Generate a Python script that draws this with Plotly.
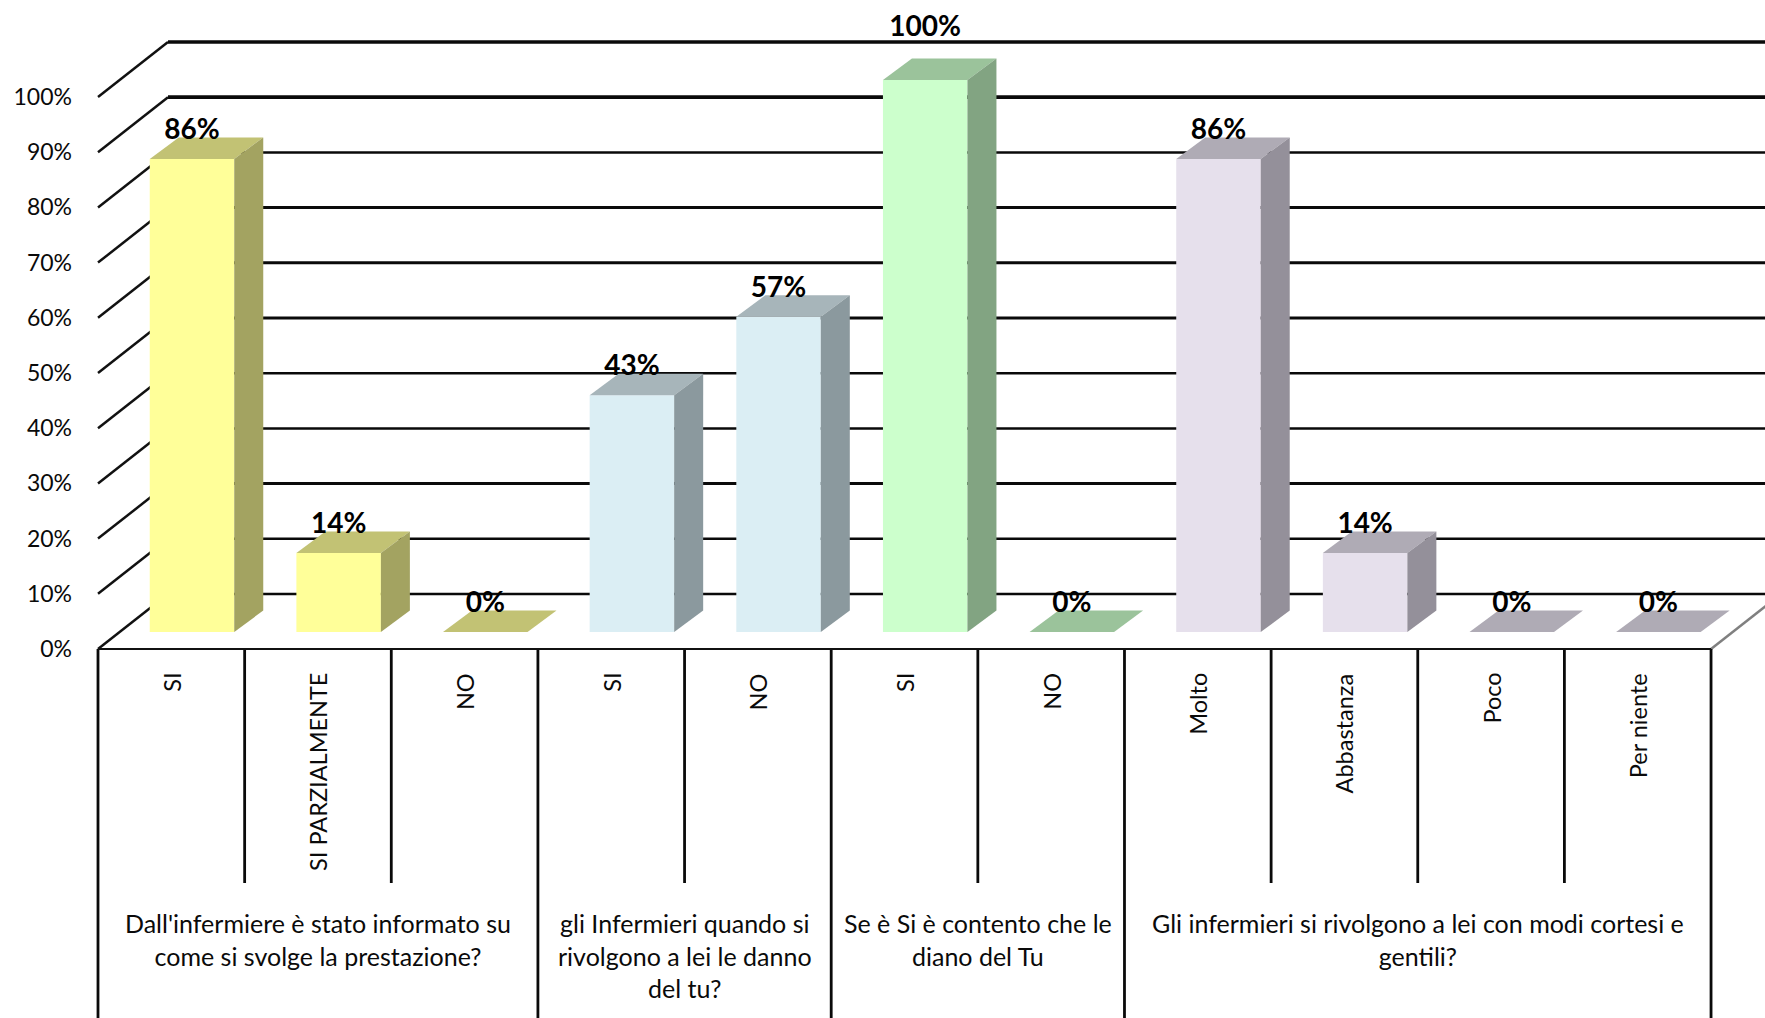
import plotly.graph_objects as go

# ---- data -------------------------------------------------------------
categories = ["SI", "SI PARZIALMENTE", "NO", "SI", "NO", "SI", "NO",
              "Molto", "Abbastanza", "Poco", "Per niente"]
values = [85.7, 14.3, 0, 42.9, 57.1, 100, 0, 85.7, 14.3, 0, 0]
value_labels = ["86%", "14%", "0%", "43%", "57%", "100%", "0%", "86%", "14%", "0%", "0%"]
groups = ["Dall'infermiere è stato informato su<br>come si svolge la prestazione?",
          "gli Infermieri quando si<br>rivolgono a lei le danno<br>del tu?",
          "Se è Si è contento che le<br>diano del Tu",
          "Gli infermieri si rivolgono a lei con modi cortesi e<br>gentili?"]
group_sizes = [3, 2, 2, 4]
axis_values = list(range(0, 101, 10))
axis_labels = [f"{v}%" for v in axis_values]
front_colors = ["#FFFF99"] * 3 + ["#DBEEF4"] * 2 + ["#CCFFCC"] * 2 + ["#E6E0EC"] * 4
top_colors = ["#C2C274"] * 3 + ["#A7B5BA"] * 2 + ["#9BC39B"] * 2 + ["#AFABB5"] * 4
side_colors = ["#A3A361"] * 3 + ["#8B999E"] * 2 + ["#82A482"] * 2 + ["#94909A"] * 4
grid_widths = [2.5, 2.5, 3, 2.5, 2.5, 3, 3, 3, 2.5, 3.7, 3.5]

# ---- geometry (pixels -> axis units) -----------------------------------
W, H = 1765, 1018
UX, UY = 146.64, 5.52           # px per category, px per percent
X0_PX, Y0_PX = 98, 632          # page position of first category edge and of bar base
MARGIN_L = 90
x_range = [(MARGIN_L - X0_PX) / UX, (W - X0_PX) / UX]
y_range = [(Y0_PX - H) / UY, Y0_PX / UY]
FLOOR = -17 / UY                # front floor edge
WALL_DX, WALL_DY = 70 / UX, 55 / UY
BAR_OFF = 0.641
BAR_W = 84.5 / UX
DEPTH_X, DEPTH_Y = 29 / UX, 21.5 / UY
n = len(categories)
xc = [i + BAR_OFF for i in range(n)]

fig = go.Figure()

# wall grid and left-hand slants, under the bars
shapes = []
for v, w in zip(axis_values, grid_widths):
    yf = v + FLOOR
    yb = yf + WALL_DY
    shapes.append(dict(type="line", layer="below", xref="x", yref="y", x0=WALL_DX, x1=x_range[1] + 0.1,
                       y0=yb, y1=yb, line=dict(color="#0A0A0A", width=w)))
    shapes.append(dict(type="line", layer="below", xref="x", yref="y", x0=0, x1=WALL_DX,
                       y0=yf, y1=yb, line=dict(color="#111111", width=2.5)))
shapes.append(dict(type="line", layer="below", xref="x", yref="y", x0=n, x1=n + WALL_DX,
                   y0=FLOOR, y1=FLOOR + WALL_DY, line=dict(color="#808080", width=2.5)))

# front faces
fig.add_trace(go.Bar(x=xc, y=values, width=BAR_W, marker=dict(color=front_colors, line=dict(width=0)),
                     hoverinfo="skip", showlegend=False))

# top and side faces
for x, v, tc, sc in zip(xc, values, top_colors, side_colors):
    l, r = x - BAR_W / 2, x + BAR_W / 2
    fig.add_trace(go.Scatter(x=[l, r, r + DEPTH_X, l + DEPTH_X, l],
                             y=[v, v, v + DEPTH_Y, v + DEPTH_Y, v],
                             mode="lines", fill="toself", fillcolor=tc, line=dict(width=0),
                             hoverinfo="skip", showlegend=False))
    if v > 0:
        fig.add_trace(go.Scatter(x=[r, r + DEPTH_X, r + DEPTH_X, r, r],
                                 y=[0, DEPTH_Y, v + DEPTH_Y, v, 0],
                                 mode="lines", fill="toself", fillcolor=sc, line=dict(width=0),
                                 hoverinfo="skip", showlegend=False))

# category table lines
AX_BOTTOM = y_range[0] - 1
INNER_BOTTOM = (Y0_PX - 883) / UY
edges = {0}
s = 0
for g in group_sizes:
    s += g
    edges.add(s)
lx, ly = [], []
for i in range(n + 1):
    lx += [i, i, None]
    ly += [FLOOR, AX_BOTTOM if i in edges else INNER_BOTTOM, None]
fig.add_trace(go.Scatter(x=lx, y=ly, mode="lines", line=dict(color="#0A0A0A", width=2.8),
                         hoverinfo="skip", showlegend=False))
fig.add_trace(go.Scatter(x=[0, n], y=[FLOOR, FLOOR], mode="lines", line=dict(color="#111111", width=2),
                         hoverinfo="skip", showlegend=False))

# value labels
lift = [4.9 + (4.4 if v == 100 else 0) for v in values]
fig.add_trace(go.Scatter(x=xc, y=[v + d for v, d in zip(values, lift)], text=value_labels, mode="text",
                         textposition="middle center",
                         textfont=dict(family="Lato", size=28, color="#000000", weight="bold"),
                         hoverinfo="skip", showlegend=False))

# category and group labels
annotations = []
for i, c in enumerate(categories):
    annotations.append(dict(x=i + 0.5, y=(Y0_PX - 671) / UY, xref="x", yref="y", text=c, textangle=-90,
                            showarrow=False, xanchor="center", yanchor="top",
                            font=dict(family="Lato", size=23.5, color="#0A0A0A")))
s = 0
for g, size in zip(groups, group_sizes):
    annotations.append(dict(x=s + size / 2, y=(Y0_PX - 906) / UY, xref="x", yref="y", text=g,
                            showarrow=False, xanchor="center", yanchor="top", align="center",
                            font=dict(family="Lato", size=25, color="#0A0A0A")))
    s += size

fig.update_layout(
    width=W, height=H, margin=dict(l=MARGIN_L, r=0, t=0, b=0),
    paper_bgcolor="white", plot_bgcolor="white", showlegend=False,
    shapes=shapes, annotations=annotations, barmode="overlay",
    xaxis=dict(range=x_range, visible=False, fixedrange=True),
    yaxis=dict(range=y_range, tickvals=[v + FLOOR for v in axis_values], ticktext=axis_labels,
               showgrid=False, zeroline=False, showline=False, ticks="", ticklabelstandoff=17,
               tickfont=dict(family="Lato", size=23, color="#0A0A0A"), fixedrange=True),
)
fig.write_html("out.html", config=dict(displayModeBar=False),
               post_script="document.body.style.margin='0';document.documentElement.style.overflow='hidden';")
